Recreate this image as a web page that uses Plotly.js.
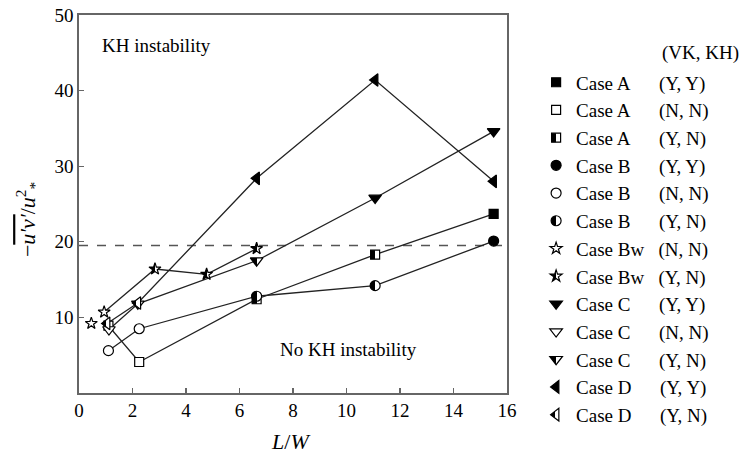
<!DOCTYPE html>
<html><head><meta charset="utf-8">
<script src="https://cdn.plot.ly/plotly-3.0.1.min.js"></script>
<style>body{margin:0;background:#fff}#chart{width:748px;height:455px}</style>
</head><body><div id="chart"></div>
<script>
// ---- data ----
var caseA_x = [1.1, 2.25, 6.64, 11.07, 15.5];
var caseA_y = [8.9, 4.1, 12.4, 18.3, 23.7];
var caseA_kind = ['NN', 'NN', 'YN', 'YN', 'YY'];

var caseB_x = [1.1, 2.25, 6.64, 11.07, 15.5];
var caseB_y = [5.6, 8.5, 12.8, 14.2, 20.1];
var caseB_kind = ['NN', 'NN', 'YN', 'YN', 'YY'];

var caseBw_x = [0.46, 0.94, 2.84, 4.77, 6.64];
var caseBw_y = [9.2, 10.7, 16.4, 15.7, 19.1];
var caseBw_kind = ['NN', 'NN', 'YN', 'YN', 'YN'];
var caseBw_linked = [false, true, true, true, true];

var caseC_x = [1.12, 2.2, 6.64, 11.07, 15.5];
var caseC_y = [8.4, 11.8, 17.5, 25.8, 34.6];
var caseC_kind = ['NN', 'YN', 'YN', 'YY', 'YY'];

var caseD_x = [1.05, 2.2, 6.64, 11.07, 15.5];
var caseD_y = [9.2, 11.9, 28.4, 41.4, 28.0];
var caseD_kind = ['YN', 'YN', 'YY', 'YY', 'YY'];

var kh_threshold = 19.5;
var xTicks = [0, 2, 4, 6, 8, 10, 12, 14, 16];
var yTicks = [10, 20, 30, 40, 50];

// legend entries, in order
var legendOrder = [
  ['A', 'YY'], ['A', 'NN'], ['A', 'YN'],
  ['B', 'YY'], ['B', 'NN'], ['B', 'YN'],
  ['Bw', 'NN'], ['Bw', 'YN'],
  ['C', 'YY'], ['C', 'NN'], ['C', 'YN'],
  ['D', 'YY'], ['D', 'YN']
];
var kindLabel = {YY: '(Y, Y)', NN: '(N, N)', YN: '(Y, N)'};

// ---- styles ----
var cases = {
  A: {x: caseA_x, y: caseA_y, k: caseA_kind, sym: 'square', size: 9, pad: 6},
  B: {x: caseB_x, y: caseB_y, k: caseB_kind, sym: 'circle', size: 10, pad: 6},
  Bw: {x: caseBw_x, y: caseBw_y, k: caseBw_kind, sym: 'star', size: 9, pad: 3, linked: caseBw_linked},
  C: {x: caseC_x, y: caseC_y, k: caseC_kind, sym: 'triangle-down', size: 11, pad: 6},
  D: {x: caseD_x, y: caseD_y, k: caseD_kind, sym: 'triangle-left', size: 11, pad: 6}
};
var FONT = '"Liberation Serif", "Times New Roman", serif';
var NB = '&nbsp;';
function rep(s, n) { var o = ''; for (var i = 0; i < n; i++) o += s; return o; }

var traces = [];
// connecting lines
['A', 'B', 'Bw', 'C', 'D'].forEach(function (c) {
  var d = cases[c], lx = [], ly = [];
  d.x.forEach(function (v, i) {
    if (!d.linked || d.linked[i]) { lx.push(v); ly.push(d.y[i]); }
  });
  traces.push({x: lx, y: ly, mode: 'lines', showlegend: false, hoverinfo: 'skip',
    line: {color: '#222', width: 1.3}});
});
// markers grouped by legend category
legendOrder.forEach(function (e) {
  var c = e[0], kind = e[1], d = cases[c], px = [], py = [];
  d.x.forEach(function (v, i) { if (d.k[i] === kind) { px.push(v); py.push(d.y[i]); } });
  var marker = {symbol: d.sym, size: d.size, line: {color: '#000', width: 1.2}};
  if (kind === 'YY') { marker.color = '#000'; }
  else if (kind === 'NN') { marker.color = '#fff'; }
  else { marker.color = '#000'; marker.gradient = {type: 'horizontal', color: '#fff'}; }
  traces.push({x: px.length ? px : [null], y: py.length ? py : [null], mode: 'markers',
    name: 'Case ' + c + rep(NB, d.pad) + kindLabel[kind], marker: marker});
});

var layout = {
  width: 748, height: 455, autosize: false,
  margin: {l: 79, r: 241, t: 15, b: 62},
  paper_bgcolor: '#fff', plot_bgcolor: '#fff',
  font: {family: FONT, size: 19, color: '#000'},
  showlegend: true,
  legend: {x: 1.068, y: 0.872, xanchor: 'left', yanchor: 'top', bgcolor: 'rgba(0,0,0,0)',
    font: {family: FONT, size: 19, color: '#000'}, tracegroupgap: 0},
  xaxis: {range: [0, 16], tickvals: xTicks, ticks: 'inside', ticklen: 5, tickwidth: 1.3,
    tickcolor: '#666', showline: true, linecolor: '#666', linewidth: 1.6, mirror: true,
    showgrid: false, zeroline: false, tickfont: {family: FONT, size: 19, color: '#000'}},
  yaxis: {range: [0, 50], tickvals: yTicks, ticks: 'inside', ticklen: 5, tickwidth: 1.3,
    tickcolor: '#666', showline: true, linecolor: '#666', linewidth: 1.6, mirror: true,
    showgrid: false, zeroline: false, tickfont: {family: FONT, size: 19, color: '#000'}},
  shapes: [{type: 'line', xref: 'paper', yref: 'y', x0: 0, x1: 1, y0: kh_threshold, y1: kh_threshold,
    layer: 'below', line: {color: '#555', width: 1.5, dash: 'dash'}}],
  annotations: [
    {text: '\u2212<span style="text-decoration:overline"><i>u\u2032v\u2032</i></span>/<i>u</i><sup>2</sup><sub>*</sub>',
      xref: 'paper', yref: 'paper', x: -0.1215, y: 0.46, xanchor: 'center', yanchor: 'middle',
      textangle: -90, showarrow: false, font: {family: FONT, size: 22, color: '#000'}},
    {text: '<i>L</i>/<i>W</i>', xref: 'paper', yref: 'paper', x: 0.493, y: -0.127,
      xanchor: 'center', yanchor: 'middle', showarrow: false,
      font: {family: FONT, size: 22, color: '#000'}},
    {text: 'KH instability', xref: 'x', yref: 'y', x: 0.78, y: 46, xanchor: 'left', yanchor: 'middle',
      showarrow: false, font: {family: FONT, size: 19, color: '#000'}},
    {text: 'No KH instability', xref: 'x', yref: 'y', x: 7.44, y: 5.7, xanchor: 'left', yanchor: 'middle',
      showarrow: false, font: {family: FONT, size: 19, color: '#000'}},
    {text: '(VK, KH)', xref: 'paper', yref: 'paper', x: 1.357, y: 0.9, xanchor: 'left', yanchor: 'middle',
      showarrow: false, font: {family: FONT, size: 19, color: '#000'}}
  ]
};

function halfFill(gd) {
  var ns = 'http://www.w3.org/2000/svg';
  var grads = gd.querySelectorAll('linearGradient');
  grads.forEach(function (g) {
    while (g.firstChild) g.removeChild(g.firstChild);
    g.setAttribute('x1', '0'); g.setAttribute('x2', '1');
    g.setAttribute('y1', '0'); g.setAttribute('y2', '0');
    [['0', '#000'], ['0.5', '#000'], ['0.5', '#fff'], ['1', '#fff']].forEach(function (s) {
      var st = document.createElementNS(ns, 'stop');
      st.setAttribute('offset', s[0]); st.setAttribute('stop-color', s[1]);
      st.setAttribute('style', 'stop-color:' + s[1] + ';stop-opacity:1');
      g.appendChild(st);
    });
  });
}

var gd = document.getElementById('chart');
Plotly.newPlot(gd, traces, layout, {displayModeBar: false, staticPlot: true}).then(function () {
  halfFill(gd);
});
</script>
</body></html>
